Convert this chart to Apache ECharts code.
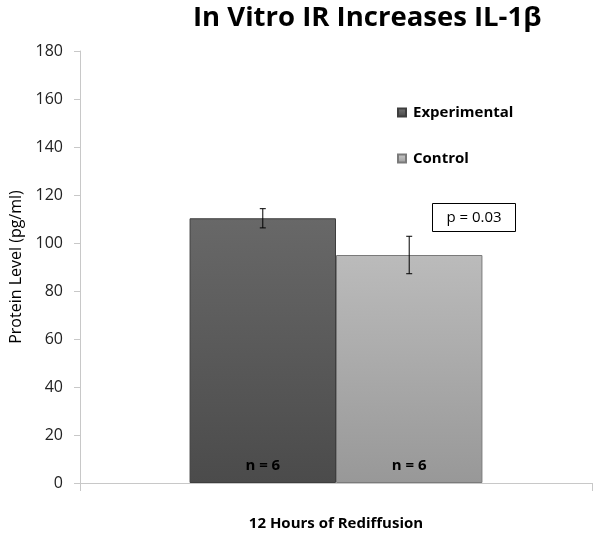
<!DOCTYPE html>
<html>
<head>
<meta charset="utf-8">
<script src="https://cdn.jsdelivr.net/npm/echarts@6/dist/echarts.min.js"></script>
<style>html,body{margin:0;padding:0;background:#fff;}#c{width:600px;height:536px;}</style>
</head>
<body>
<div id="c"></div>
<script>
const categories = ['12 Hours of Rediffusion'];
const seriesNames = ['Experimental', 'Control'];
const experimental = [110.3];
const control = [95.0];
const experimentalErr = [4.0];
const controlErr = [7.8];
const sampleLabels = ['n = 6', 'n = 6'];
const yTicks = [0, 20, 40, 60, 80, 100, 120, 140, 160, 180];
const pText = 'p = 0.03';

const FONT = '"Open Sans", Lato, sans-serif';
const BARW = 0.286;

const chart = echarts.init(document.getElementById('c'));

function grad(top, bottom) {
  return new echarts.graphic.LinearGradient(0, 0, 0, 1, [
    {offset: 0, color: top}, {offset: 1, color: bottom}
  ]);
}

function errSeries(name, values, errs, sign) {
  return {
    type: 'custom',
    name: name + ' err',
    z: 10,
    silent: true,
    data: values.map((v, i) => [i, v, errs[i]]),
    renderItem: function (params, api) {
      const c = api.value(0), v = api.value(1), e = api.value(2);
      const hi = api.coord([c, v + e]);
      const lo = api.coord([c, v - e]);
      const band = api.size([1, 0])[0];
      const x = hi[0] + sign * band * BARW / 2;
      const cap = 3;
      const st = {stroke: '#000', lineWidth: 1};
      return {type: 'group', children: [
        {type: 'line', shape: {x1: x, y1: hi[1], x2: x, y2: lo[1]}, style: st},
        {type: 'line', shape: {x1: x - cap, y1: hi[1], x2: x + cap, y2: hi[1]}, style: st},
        {type: 'line', shape: {x1: x - cap, y1: lo[1], x2: x + cap, y2: lo[1]}, style: st}
      ]};
    }
  };
}

const option = {
  animation: false,
  textStyle: {fontFamily: FONT},
  title: {
    text: 'In Vitro IR Increases IL-1β',
    left: 188, top: -1,
    textStyle: {fontFamily: FONT, fontSize: 27.5, fontWeight: 'bold', color: '#000'}
  },
  legend: {
    data: seriesNames.map((n, i) => ({
      name: n,
      itemStyle: {color: i === 0 ? grad('#777', '#444') : grad('#ccc', '#999')}
    })),
    orient: 'vertical',
    left: 392, top: 100,
    icon: 'rect', itemWidth: 8, itemHeight: 8, itemGap: 31,
    textStyle: {fontFamily: FONT, fontSize: 15, fontWeight: 'bold', color: '#000', padding: [0, 0, 0, 2]}
  },
  grid: {left: 79, right: 8, top: 51, bottom: 52, containLabel: false},
  xAxis: {
    type: 'category',
    data: categories,
    name: categories[0],
    nameLocation: 'middle',
    nameGap: 33,
    nameTextStyle: {fontFamily: FONT, fontSize: 15, fontWeight: 'bold', color: '#000'},
    axisLine: {lineStyle: {color: '#c8c8c8', width: 1}},
    axisTick: {show: true, length: 8, lineStyle: {color: '#c8c8c8'}},
    axisLabel: {show: false}
  },
  yAxis: {
    type: 'value',
    min: yTicks[0], max: yTicks[yTicks.length - 1], interval: yTicks[1] - yTicks[0],
    name: 'Protein Level (pg/ml)',
    nameLocation: 'middle',
    nameGap: 56,
    nameTextStyle: {fontFamily: FONT, fontSize: 16, color: '#000'},
    axisLine: {show: true, lineStyle: {color: '#c8c8c8'}},
    axisTick: {show: true, length: 6, lineStyle: {color: '#c8c8c8'}},
    splitLine: {show: false},
    axisLabel: {fontFamily: FONT, fontSize: 16, color: '#222', margin: 17}
  },
  series: [
    {
      type: 'bar', name: seriesNames[0], data: experimental,
      barWidth: (BARW * 100) + '%', barGap: '0%',
      itemStyle: {color: grad('#686868', '#4b4b4b'), borderColor: '#3e3e3e', borderWidth: 1},
      label: {show: true, position: 'insideBottom', distance: 10, formatter: () => sampleLabels[0],
        fontFamily: FONT, fontSize: 15, fontWeight: 'bold', color: '#000'}
    },
    {
      type: 'bar', name: seriesNames[1], data: control,
      barWidth: (BARW * 100) + '%', barGap: '0%',
      itemStyle: {color: grad('#bbbbbb', '#989898'), borderColor: '#7a7a7a', borderWidth: 1},
      label: {show: true, position: 'insideBottom', distance: 10, formatter: () => sampleLabels[1],
        fontFamily: FONT, fontSize: 15, fontWeight: 'bold', color: '#000'}
    },
    errSeries(seriesNames[0], experimental, experimentalErr, -1),
    errSeries(seriesNames[1], control, controlErr, 1)
  ],
  graphic: [{
    type: 'group', left: 432, top: 203,
    children: [
      {type: 'rect', shape: {x: 0, y: 0, width: 83, height: 28}, style: {fill: '#fff', stroke: '#000', lineWidth: 1}},
      {type: 'text', x: 41.5, y: 14, style: {text: pText, fontFamily: FONT, fontSize: 15, fill: '#000', align: 'center', verticalAlign: 'middle'}}
    ]
  }]
};
chart.setOption(option);
</script>
</body>
</html>
